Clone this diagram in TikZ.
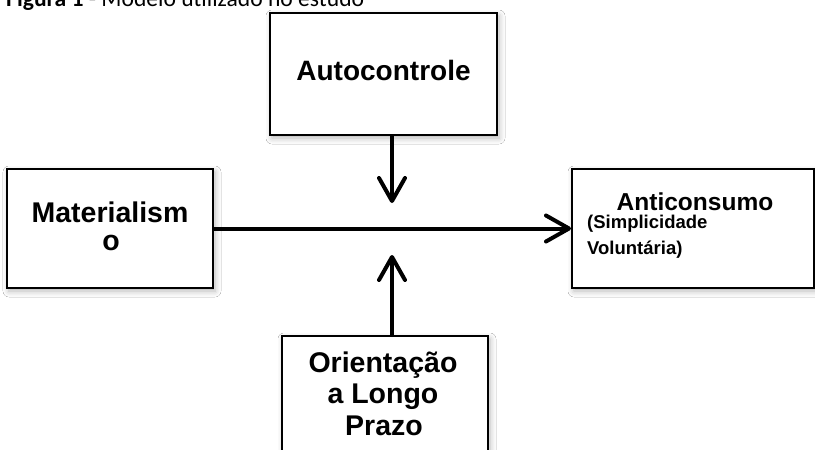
\documentclass[tikz,border=0pt]{standalone}
\usepackage{fontspec}
\setmainfont{Liberation Sans}
\newfontfamily\capfont{Carlito}
\usetikzlibrary{arrows.meta,shadows.blur}
\tikzset{
  x=1pt, y=-1pt,
  box/.style={draw=black, line width=2pt, fill=white, inner sep=0pt,
    blur shadow={shadow xshift=2pt, shadow yshift=-3pt, shadow blur radius=6pt, shadow opacity=30}},
  lbl/.style={font=\bfseries\fontsize{28.5}{30}\selectfont, inner sep=0pt, anchor=base},
  arr/.style={line width=4pt, line cap=round, -{Straight Barb[length=23pt,width=26pt,round]}},
}
\begin{document}
\begin{tikzpicture}
\clip (0,0) rectangle (815,450);
\useasboundingbox (0,0) rectangle (815,450);
\fill[white] (0,0) rectangle (815,450);

% caption
\node[anchor=base west, inner sep=0pt, font=\capfont\fontsize{23.6}{26}\selectfont] (cap) at (6,6) {\textbf{Figura 1} - Modelo utilizado no estudo};

% boxes
\node[box, minimum width=227pt, minimum height=122pt] (auto) at (383.5,74) {};
\node[box, minimum width=206pt, minimum height=119pt] (mat) at (110,228.5) {};
\node[box, minimum width=242pt, minimum height=119pt] (anti) at (693,228.5) {};
\node[box, minimum width=206pt, minimum height=144pt] (orient) at (385,408) {};

% texts
\node[lbl, font=\bfseries\fontsize{28}{30}\selectfont] (autoT) at (383.5,80) {Autocontrole};
\node[lbl] (matT1) at (110,222) {Materialism};
\node[lbl] (matT2) at (111,250) {o};
\node[lbl, font=\bfseries\fontsize{24.5}{26}\selectfont] (antiT1) at (695,210) {Anticonsumo};
\node[lbl, anchor=base west, font=\bfseries\fontsize{18.5}{20}\selectfont] (antiT2) at (587,228) {(Simplicidade};
\node[lbl, anchor=base west, font=\bfseries\fontsize{18.5}{20}\selectfont] (antiT3) at (587,254) {Voluntária)};
\node[lbl] (orT1) at (383,372) {Orientação};
\node[lbl] (orT2) at (383,403) {a Longo};
\node[lbl] (orT3) at (384,435) {Prazo};

% connectors
\coordinate (downEnd) at (392,203);
\coordinate (upEnd) at (392,255);
\draw[arr] (auto.south -| downEnd) -- (downEnd);
\draw[arr] (mat.east) -- (anti.west);
\draw[arr] (orient.north -| upEnd) -- (upEnd);
\end{tikzpicture}
\end{document}
